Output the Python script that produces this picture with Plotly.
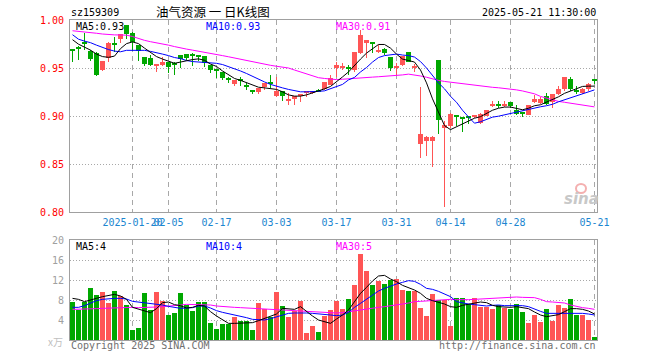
import plotly.graph_objects as go

# ---------------- data ----------------
dates = (
    ["2025-01-%02d" % d for d in [6, 7, 8, 9, 10, 13, 14, 15, 16, 17, 20, 21, 22, 23, 24, 27]]
    + ["2025-02-%02d" % d for d in [5, 6, 7, 10, 11, 12, 13, 14, 17, 18, 19, 20, 21, 24, 25, 26, 27, 28]]
    + ["2025-03-%02d" % d for d in [3, 4, 5, 6, 7, 10, 11, 12, 13, 14, 17, 18, 19, 20, 21, 24, 25, 26, 27, 28, 31]]
    + ["2025-04-%02d" % d for d in [1, 2, 3, 7, 8, 9, 10, 11, 14, 15, 16, 17, 18, 21, 22, 23, 24, 25, 28, 29, 30]]
    + ["2025-05-%02d" % d for d in [6, 7, 8, 9, 12, 13, 14, 15, 16, 19, 20, 21]]
)

open_ = [0.9697, 0.9714, 0.9764, 0.9673, 0.9655, 0.9482, 0.9604, 0.9759, 0.9800, 0.9948,
         0.9862, 0.9741, 0.9614, 0.9604, 0.9524, 0.9534, 0.9562, 0.9547, 0.9631, 0.9645,
         0.9643, 0.9629, 0.9621, 0.9528, 0.9479, 0.9459, 0.9391, 0.9337, 0.9381, 0.9316,
         0.9275, 0.9248, 0.9298, 0.9348, 0.9208, 0.9265, 0.9162, 0.9176, 0.9210, 0.9244,
         0.9248, 0.9264, 0.9283, 0.9324, 0.9497, 0.9508, 0.9505, 0.9479, 0.9658, 0.9756,
         0.9759, 0.9669, 0.9694, 0.9617, 0.9500, 0.9531, 0.9663, 0.9500, 0.8713, 0.8741,
         0.8741, 0.9586, 0.8872, 0.8896, 0.9010, 0.8988, 0.9000, 0.8990, 0.8931, 0.8996,
         0.9110, 0.9117, 0.9110, 0.9148, 0.9062, 0.9041, 0.9006, 0.9145, 0.9138, 0.9207,
         0.9145, 0.9231, 0.9286, 0.9386, 0.9275, 0.9241, 0.9283, 0.9376]
close = [0.9679, 0.9707, 0.9754, 0.9596, 0.9431, 0.9576, 0.9759, 0.9748, 0.9852, 0.9852,
         0.9776, 0.9673, 0.9545, 0.9528, 0.9541, 0.9559, 0.9507, 0.9536, 0.9596, 0.9604,
         0.9635, 0.9624, 0.9552, 0.9482, 0.9472, 0.9396, 0.9384, 0.9379, 0.9374, 0.9308,
         0.9259, 0.9288, 0.9345, 0.9341, 0.9264, 0.9208, 0.9176, 0.9210, 0.9228, 0.9255,
         0.9262, 0.9258, 0.9358, 0.9400, 0.9531, 0.9516, 0.9498, 0.9663, 0.9842, 0.9790,
         0.9752, 0.9686, 0.9652, 0.9497, 0.9507, 0.9624, 0.9567, 0.9505, 0.8810, 0.8783,
         0.8783, 0.8954, 0.8907, 0.9024, 0.8993, 0.8979, 0.8975, 0.8996, 0.9024, 0.9065,
         0.9117, 0.9110, 0.9117, 0.9104, 0.9024, 0.9017, 0.9114, 0.9179, 0.9172, 0.9127,
         0.9231, 0.9286, 0.9407, 0.9286, 0.9252, 0.9283, 0.9334, 0.9369]
high = [0.9697, 0.9728, 0.9862, 0.9683, 0.9663, 0.9576, 0.9769, 0.9828, 0.9852, 0.9948,
        0.9880, 0.9741, 0.9614, 0.9631, 0.9541, 0.9611, 0.9562, 0.9562, 0.9631, 0.9645,
        0.9655, 0.9635, 0.9624, 0.9528, 0.9479, 0.9459, 0.9404, 0.9379, 0.9402, 0.9345,
        0.9275, 0.9288, 0.9345, 0.9424, 0.9407, 0.9265, 0.9244, 0.9210, 0.9228, 0.9262,
        0.9262, 0.9280, 0.9358, 0.9428, 0.9565, 0.9549, 0.9531, 0.9663, 0.9901, 0.9790,
        0.9772, 0.9738, 0.9704, 0.9617, 0.9549, 0.9624, 0.9663, 0.9538, 0.9303, 0.8793,
        0.8793, 0.9586, 0.8948, 0.9034, 0.9010, 0.8988, 0.9003, 0.9006, 0.9034, 0.9065,
        0.9155, 0.9155, 0.9155, 0.9148, 0.9110, 0.9041, 0.9114, 0.9217, 0.9197, 0.9241,
        0.9231, 0.9311, 0.9407, 0.9407, 0.9311, 0.9293, 0.9345, 0.9376]
low = [0.9559, 0.9586, 0.9689, 0.9576, 0.9420, 0.9466, 0.9559, 0.9663, 0.9759, 0.9803,
       0.9673, 0.9576, 0.9518, 0.9518, 0.9455, 0.9524, 0.9448, 0.9428, 0.9497, 0.9583,
       0.9518, 0.9569, 0.9513, 0.9448, 0.9396, 0.9373, 0.9345, 0.9317, 0.9317, 0.9275,
       0.9231, 0.9234, 0.9272, 0.9293, 0.9200, 0.9153, 0.9117, 0.9117, 0.9151, 0.9203,
       0.9231, 0.9255, 0.9272, 0.9324, 0.9404, 0.9479, 0.9428, 0.9462, 0.9645, 0.9600,
       0.9652, 0.9658, 0.9635, 0.9472, 0.9428, 0.9521, 0.9562, 0.9462, 0.8561, 0.8586,
       0.8472, 0.8810, 0.8051, 0.8879, 0.8896, 0.8837, 0.8913, 0.8975, 0.8913, 0.8996,
       0.9093, 0.9086, 0.9093, 0.9086, 0.9010, 0.8993, 0.9006, 0.9138, 0.9120, 0.9110,
       0.9079, 0.9217, 0.9259, 0.9265, 0.9234, 0.9234, 0.9265, 0.9337]

ma5 = [0.9795, 0.9748, 0.9717, 0.9686, 0.9645, 0.9619, 0.9611, 0.9624, 0.9702, 0.9754,
       0.9772, 0.9754, 0.9707, 0.9663, 0.9619, 0.9593, 0.9567, 0.9549, 0.9562, 0.9578,
       0.9588, 0.9595, 0.9580, 0.9541, 0.9516, 0.9469, 0.9433, 0.9391, 0.9371, 0.9350,
       0.9324, 0.9300, 0.9293, 0.9285, 0.9277, 0.9252, 0.9220, 0.9207, 0.9207, 0.9220,
       0.9241, 0.9254, 0.9283, 0.9308, 0.9355, 0.9407, 0.9459, 0.9531, 0.9593, 0.9655,
       0.9702, 0.9745, 0.9745, 0.9707, 0.9645, 0.9593, 0.9578, 0.9562, 0.9479, 0.9345,
       0.9179, 0.9045, 0.8900, 0.8858, 0.8889, 0.8920, 0.8951, 0.8977, 0.8993, 0.9029,
       0.9060, 0.9081, 0.9093, 0.9093, 0.9081, 0.9065, 0.9081, 0.9107, 0.9117, 0.9143,
       0.9169, 0.9200, 0.9236, 0.9262, 0.9288, 0.9308, 0.9311, 0.9311]
ma10 = [0.9847, 0.9800, 0.9780, 0.9764, 0.9738, 0.9712, 0.9692, 0.9676, 0.9669, 0.9684,
        0.9686, 0.9686, 0.9684, 0.9673, 0.9661, 0.9645, 0.9629, 0.9609, 0.9598, 0.9578,
        0.9567, 0.9564, 0.9562, 0.9557, 0.9549, 0.9536, 0.9516, 0.9495, 0.9469, 0.9443,
        0.9412, 0.9386, 0.9355, 0.9329, 0.9308, 0.9293, 0.9277, 0.9267, 0.9252, 0.9252,
        0.9252, 0.9257, 0.9262, 0.9283, 0.9308, 0.9329, 0.9376, 0.9402, 0.9459, 0.9505,
        0.9562, 0.9609, 0.9629, 0.9640, 0.9645, 0.9635, 0.9629, 0.9614, 0.9567, 0.9500,
        0.9417, 0.9345, 0.9283, 0.9205, 0.9143, 0.9060, 0.8990, 0.8925, 0.8940, 0.8967,
        0.8988, 0.8998, 0.9013, 0.9024, 0.9039, 0.9055, 0.9070, 0.9083, 0.9096, 0.9107,
        0.9122, 0.9148, 0.9169, 0.9189, 0.9210, 0.9231, 0.9252, 0.9272]
ma30 = [0.9888, 0.9883, 0.9878, 0.9873, 0.9862, 0.9854, 0.9847, 0.9845, 0.9844, 0.9842,
        0.9828, 0.9805, 0.9788, 0.9774, 0.9764, 0.9752, 0.9738, 0.9723, 0.9707, 0.9697,
        0.9686, 0.9676, 0.9666, 0.9653, 0.9640, 0.9629, 0.9617, 0.9604, 0.9593, 0.9578,
        0.9562, 0.9549, 0.9538, 0.9528, 0.9518, 0.9508, 0.9500, 0.9479, 0.9459, 0.9438,
        0.9417, 0.9399, 0.9391, 0.9384, 0.9379, 0.9383, 0.9386, 0.9389, 0.9394, 0.9401,
        0.9405, 0.9409, 0.9412, 0.9416, 0.9420, 0.9428, 0.9436, 0.9428, 0.9417, 0.9404,
        0.9386, 0.9371, 0.9360, 0.9352, 0.9345, 0.9334, 0.9326, 0.9318, 0.9309, 0.9304,
        0.9299, 0.9294, 0.9289, 0.9283, 0.9272, 0.9261, 0.9249, 0.9231, 0.9204, 0.9185,
        0.9167, 0.9152, 0.9143, 0.9133, 0.9121, 0.9112, 0.9104, 0.9095]

volume = [7.7, 6.1, 7.7, 10.5, 9.0, 9.6, 7.4, 9.8, 8.8, 7.0,
          2.0, 2.4, 9.4, 6.0, 9.6, 7.8, 5.0, 5.4, 9.4, 7.0,
          5.8, 7.6, 7.6, 3.4, 2.2, 3.2, 3.2, 4.6, 3.8, 3.8,
          2.0, 7.4, 6.2, 4.6, 9.6, 6.8, 4.6, 5.8, 7.8, 1.4,
          2.8, 1.6, 4.8, 6.0, 7.8, 6.2, 8.2, 11.0, 17.2, 13.8,
          11.0, 11.8, 11.2, 12.0, 12.2, 10.0, 9.8, 9.8, 6.4, 4.8,
          9.2, 8.0, 8.0, 2.8, 8.4, 8.4, 7.2, 8.4, 6.6, 6.6,
          6.2, 7.0, 6.4, 6.2, 7.2, 5.6, 3.4, 5.0, 3.6, 6.2,
          3.9, 7.0, 6.4, 8.2, 5.0, 5.0, 4.0, 0.6]
vma5 = [8.33, 8.13, 7.67, 7.93, 8.33, 8.67, 8.87, 9.13, 8.8, 8.13,
        6.53, 6.13, 5.87, 5.47, 6.27, 7.47, 7.6, 7.07, 6.87, 6.4,
        6.53, 6.93, 6.8, 5.67, 4.8, 4.0, 3.33, 3.33, 3.33, 3.33,
        3.47, 3.87, 4.33, 4.67, 5.2, 6.33, 6.2, 6.13, 6.67, 5.67,
        4.8, 4.0, 3.6, 3.33, 4.2, 5.0, 6.0, 7.67, 9.33, 10.53,
        11.8, 12.8, 12.93, 12.2, 11.67, 10.93, 10.47, 10.0, 9.33, 8.33,
        7.87, 7.6, 7.2, 6.67, 6.53, 6.93, 7.2, 7.33, 7.6, 7.47,
        6.93, 6.67, 6.53, 6.53, 6.67, 6.53, 6.27, 5.6, 5.0, 4.67,
        4.8, 5.07, 5.67, 6.27, 6.27, 6.13, 5.8, 5.2]
vma10 = [6.53, 6.53, 6.87, 7.33, 7.87, 8.13, 8.27, 8.33, 8.33, 8.2,
         7.73, 7.6, 7.4, 7.33, 7.13, 7.0, 6.73, 6.47, 6.33, 6.4,
         6.47, 6.8, 6.8, 6.4, 5.87, 5.53, 5.27, 5.13, 4.8, 4.47,
         4.13, 4.07, 4.0, 4.27, 4.67, 5.07, 5.33, 5.4, 5.47, 5.4,
         5.33, 5.27, 5.2, 5.0, 4.87, 5.0, 5.53, 6.53, 7.33, 8.2,
         8.93, 9.8, 10.33, 10.8, 11.2, 11.53, 11.87, 11.73, 11.13, 10.33,
         10.13, 9.73, 9.13, 8.67, 7.67, 7.4, 7.2, 7.07, 6.93, 6.8,
         6.93, 7.0, 6.87, 6.87, 7.0, 6.87, 6.67, 6.13, 5.73, 5.33,
         5.33, 5.33, 5.33, 5.47, 5.4, 5.33, 5.2, 5.0]
vma30 = [6.13, 6.13, 6.2, 6.2, 6.27, 6.33, 6.4, 6.47, 6.53, 6.53,
         6.53, 6.47, 6.47, 6.53, 6.6, 6.67, 6.73, 6.87, 7.0, 7.13,
         7.13, 7.13, 7.13, 7.0, 6.8, 6.67, 6.6, 6.53, 6.47, 6.4,
         6.33, 6.27, 6.2, 6.13, 6.07, 6.0, 5.93, 5.87, 5.8, 5.73,
         5.67, 5.6, 5.4, 5.33, 5.4, 5.47, 5.67, 5.8, 6.0, 6.2,
         6.4, 6.53, 6.67, 6.8, 7.0, 7.2, 7.4, 7.67, 7.73, 7.8,
         7.93, 8.0, 8.13, 8.13, 8.07, 8.0, 8.07, 8.13, 8.2, 8.27,
         8.33, 8.4, 8.53, 8.67, 8.6, 8.53, 8.53, 8.47, 8.13, 7.67,
         7.6, 7.53, 7.4, 7.0, 6.67, 6.47, 6.33, 6.13]

tick_dates = ["2025-01-20", "2025-02-05", "2025-02-17", "2025-03-03", "2025-03-17",
              "2025-03-31", "2025-04-14", "2025-04-28", "2025-05-21"]
tick_labels = ["2025-01-20", "02-05", "02-17", "03-03", "03-17", "03-31", "04-14", "04-28", "05-21"]
price_ticks = [0.80, 0.85, 0.90, 0.95, 1.00]
vol_ticks = [0, 4, 8, 12, 16, 20]

title_text = "油气资源 一 日K线图"
code_text = "sz159309"
time_text = "2025-05-21 11:30:00"
price_ma_labels = ["MA5:0.93", "MA10:0.93", "MA30:0.91"]
vol_ma_labels = ["MA5:4", "MA10:4", "MA30:5"]

# ---------------- styling ----------------
RED = "#FF5555"
GREEN = "#00A800"
MONO = "DejaVu Sans Mono"
GRID = "#A8A8A8"
FRAME = "#A0A0A0"

up = [c >= o for o, c in zip(open_, close)]
colors = [RED if u else GREEN for u in up]
body_base = [min(o, c) for o, c in zip(open_, close)]
body_h = [max(abs(c - o), 0.0011) for o, c in zip(open_, close)]
wick_h = [h - l for h, l in zip(high, low)]

fig = go.Figure()
fig.add_trace(go.Bar(x=dates, y=wick_h, base=low, width=1 / 6, marker=dict(color=colors, line=dict(width=0)),
                     xaxis="x", yaxis="y", hoverinfo="skip"))
fig.add_trace(go.Bar(x=dates, y=body_h, base=body_base, width=5 / 6, marker=dict(color=colors, line=dict(width=0)),
                     xaxis="x", yaxis="y", hoverinfo="skip"))
for vals, col in [(ma30, "#FF00FF"), (ma10, "#0000FF"), (ma5, "#000000")]:
    fig.add_trace(go.Scatter(x=dates, y=vals, mode="lines", line=dict(color=col, width=1),
                             xaxis="x", yaxis="y", hoverinfo="skip"))

fig.add_trace(go.Bar(x=dates, y=volume, width=5 / 6, marker=dict(color=colors, line=dict(width=0)),
                     xaxis="x2", yaxis="y2", hoverinfo="skip"))
for vals, col in [(vma30, "#FF00FF"), (vma10, "#0000FF"), (vma5, "#000000")]:
    fig.add_trace(go.Scatter(x=dates, y=vals, mode="lines", line=dict(color=col, width=1),
                             xaxis="x2", yaxis="y2", hoverinfo="skip"))

L, R, T, B = 70, 63, 20, 20
W, H = 660, 360
PW, PH = W - L - R, H - T - B


def px(x, y):
    return (x - L) / PW, (H - B - y) / PH


xcommon = dict(type="category", range=[-2.5 / 6, (597 - 72.5) / 6], showgrid=True, gridcolor=GRID,
               griddash="5px,4px", gridwidth=1, tickvals=tick_dates, showline=True, mirror=True,
               linecolor=FRAME, linewidth=1, zeroline=False, ticks="", fixedrange=True,
               automargin=False, tickangle=0)
ycommon = dict(showgrid=True, gridcolor=GRID, griddash="1px,2px", showline=True, mirror=True,
               linecolor=FRAME, zeroline=False, ticks="", ticklabelstandoff=3, fixedrange=True,
               automargin=False)
fig.update_layout(
    width=W, height=H, margin=dict(l=L, r=R, t=T, b=B, autoexpand=False),
    paper_bgcolor="white", plot_bgcolor="white", showlegend=False,
    barmode="overlay", bargap=0,
    xaxis=dict(**xcommon, domain=[0, 1], anchor="y", ticktext=tick_labels,
               tickfont=dict(family=MONO, size=10, color="#1C86D0"), ticklabelstandoff=1),
    xaxis2=dict(**xcommon, domain=[0, 1], anchor="y2", matches="x", showticklabels=False),
    yaxis=dict(**ycommon, domain=[0.4, 1.0], range=[0.80, 1.00], tickvals=price_ticks,
               ticktext=["%.2f" % v for v in price_ticks], tickfont=dict(family=MONO, size=10, color="#FF0000")),
    yaxis2=dict(**ycommon, domain=[0, 0.3125], range=[0, 20], tickvals=vol_ticks,
                ticktext=["" if v == 0 else str(v) for v in vol_ticks],
                tickfont=dict(family=MONO, size=10, color="#A0A0A0")),
)


def note(text, x, y, anchor="left", color="#000000", size=10, family=MONO, **kw):
    ax, ay = px(x, y)
    fig.add_annotation(text=text, x=ax, y=ay, xref="paper", yref="paper", showarrow=False,
                       xanchor=anchor, yanchor="middle", borderpad=0,
                       font=dict(family=family, size=size, color=color, **kw))


note(code_text, 70, 13)
note(title_text, 213, 11.5, anchor="center", size=12.5, family="Noto Sans CJK SC")
note(time_text, 597, 12.5, anchor="right")
for lab, xx, col in zip(price_ma_labels, [75, 205, 335], ["#000000", "#0000FF", "#FF00FF"]):
    note(lab, xx, 26, color=col)
for lab, xx, col in zip(vol_ma_labels, [75, 205, 335], ["#000000", "#0000FF", "#FF00FF"]):
    note(lab, xx, 246.5, color=col)
note("x万", 64, 341, anchor="right", color="#C0C0C0", family="Noto Sans CJK SC")
note("Copyright 2025 SINA.COM", 70, 345.5, color="#707070")
note("http://finance.sina.com.cn", 597, 345.5, anchor="right", color="#707070")
note("sina", 581, 199, anchor="center", color="#C8C8C8", size=15, family="DejaVu Sans", weight="bold", style="italic")

cx0, cy0 = px(576, 184)
cx1, cy1 = px(586, 193)
fig.add_shape(type="circle", xref="paper", yref="paper", x0=cx0, y0=cy1, x1=cx1, y1=cy0,
              line=dict(color="#F4B0B0", width=2))

fig.write_html("out.html", config={"displayModeBar": False},
               post_script="document.body.style.margin='0px';")
